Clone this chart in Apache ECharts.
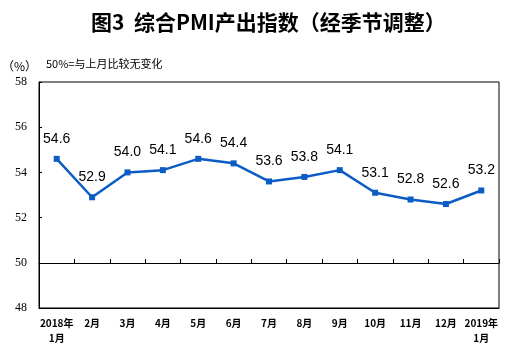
<!DOCTYPE html>
<html>
<head>
<meta charset="utf-8">
<script src="https://cdn.jsdelivr.net/npm/echarts@6/dist/echarts.min.js"></script>
<style>
html, body { margin: 0; padding: 0; background: #fff; }
#demo { width: 506px; height: 354px; }
</style>
</head>
<body>
<div id="demo"></div>
<script>
// 月份与综合PMI产出指数
var months = ['2018年\n1月', '2月', '3月', '4月', '5月', '6月', '7月', '8月', '9月', '10月', '11月', '12月', '2019年\n1月'];
var pmiValues = [54.6, 52.9, 54.0, 54.1, 54.6, 54.4, 53.6, 53.8, 54.1, 53.1, 52.8, 52.6, 53.2];
var yTicks = [48, 50, 52, 54, 56, 58];

var chart = echarts.init(document.getElementById('demo'));
var option = {
	backgroundColor: '#fff',
	animation: false,
	title: [
		{
			text: '图3  综合PMI产出指数（经季节调整）',
			left: 86,
			top: 7,
			textStyle: { fontSize: 21, fontWeight: 'bold', color: '#000', fontFamily: 'Noto Sans CJK SC' }
		},
		{
			text: '（%）',
			left: -3,
			top: 55,
			textStyle: { fontSize: 12, fontWeight: 'normal', color: '#000', fontFamily: 'Noto Sans CJK SC' }
		},
		{
			text: '50%=与上月比较无变化',
			left: 41,
			top: 53,
			textStyle: { fontSize: 11, fontWeight: 'normal', color: '#000', fontFamily: 'Noto Sans CJK SC' }
		}
	],
	grid: [
		{ left: 39, top: 82, width: 460, height: 226, show: true, borderColor: '#000', borderWidth: 1, containLabel: false },
		{ left: 39, top: 82, width: 460, height: 181, show: false, containLabel: false }
	],
	xAxis: [
		{
			type: 'category',
			gridIndex: 0,
			data: months,
			boundaryGap: true,
			axisLine: { lineStyle: { color: '#000' } },
			axisTick: { show: false },
			axisLabel: {
				color: '#000', fontSize: 10, fontWeight: 'bold', lineHeight: 15, margin: 8,
				fontFamily: 'Noto Sans CJK SC', interval: 0
			}
		},
		{
			type: 'category',
			gridIndex: 1,
			data: months,
			boundaryGap: true,
			position: 'bottom',
			axisLine: { lineStyle: { color: '#000', width: 1 } },
			axisTick: { show: true, inside: true, length: 4, interval: 0, lineStyle: { color: '#000' } },
			axisLabel: { show: false }
		}
	],
	yAxis: [
		{
			type: 'value',
			gridIndex: 0,
			min: 48,
			max: 58,
			interval: 2,
			axisLine: { show: true, lineStyle: { color: '#000' } },
			axisTick: { show: true, inside: true, length: 3, lineStyle: { color: '#000' } },
			splitLine: { show: false },
			axisLabel: {
				color: '#000', fontSize: 12, margin: 12, fontFamily: 'Liberation Serif',
				formatter: function (v) { return yTicks.indexOf(v) >= 0 ? String(v) : ''; }
			}
		},
		{
			type: 'value',
			gridIndex: 1,
			min: 50,
			max: 58,
			show: false
		}
	],
	series: [
		{
			type: 'line',
			xAxisIndex: 0,
			yAxisIndex: 0,
			data: pmiValues,
			symbol: 'rect',
			symbolSize: 6,
			itemStyle: { color: '#0b5cc4' },
			lineStyle: { color: '#0b5cc4', width: 2.5 },
			label: {
				show: true,
				position: 'top',
				distance: 10,
				color: '#000',
				fontSize: 14,
				fontFamily: 'Liberation Sans',
				formatter: function (p) { return p.value.toFixed(1); }
			}
		}
	]
};
chart.setOption(option);
</script>
</body>
</html>
